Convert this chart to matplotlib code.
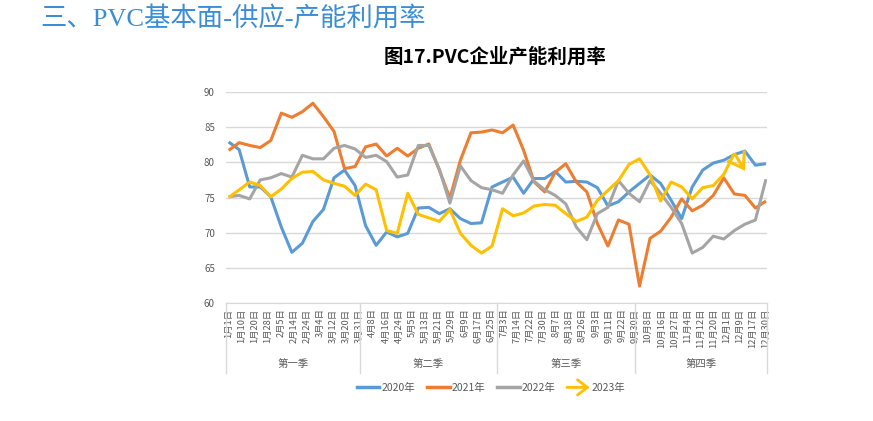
import numpy as np
import matplotlib
matplotlib.use("Agg")
import matplotlib.pyplot as plt
import matplotlib.transforms as mtransforms
from matplotlib.lines import Line2D
from matplotlib.patches import FancyArrowPatch
from matplotlib.legend_handler import HandlerBase

plt.rcParams['font.family'] = ['Noto Sans CJK SC', 'DejaVu Sans']

# category labels (date axis, shown every label) and quarter groups
date_labels = ["1月1日", "1月10日", "1月20日", "1月28日", "2月5日", "2月14日", "2月24日",
               "3月4日", "3月12日", "3月20日", "3月31日",
               "4月8日", "4月16日", "4月24日", "5月5日", "5月13日", "5月21日", "5月29日",
               "6月9日", "6月17日", "6月25日",
               "7月3日", "7月14日", "7月22日", "7月30日", "8月7日", "8月18日", "8月26日",
               "9月3日", "9月11日", "9月22日", "9月30日",
               "10月8日", "10月16日", "10月27日", "11月4日", "11月12日", "11月20日",
               "12月1日", "12月9日", "12月17日", "12月30日"]
quarters = ["第一季", "第二季", "第三季", "第四季"]
quarter_sizes = [11, 10, 11, 10]

# weekly capacity utilisation (%)
y2020 = [82.9, 81.8, 76.5, 76.5, 75.1, 70.8, 67.2, 68.5, 71.6, 73.3, 77.8, 78.9, 76.7,
         71.0, 68.2, 70.1, 69.4, 69.9, 73.5, 73.6, 72.7, 73.4, 72.0, 71.3, 71.4, 76.5,
         77.2, 77.9, 75.6, 77.7, 77.7, 78.7, 77.2, 77.3, 77.2, 76.4, 73.8, 74.4, 75.8,
         77.0, 78.2, 77.0, 74.6, 72.0, 76.5, 78.9, 79.9, 80.3, 81.1, 81.6, 79.6, 79.8]
y2021 = [81.7, 82.8, 82.4, 82.1, 83.1, 87.0, 86.4, 87.2, 88.4, 86.5, 84.4, 79.1, 79.4,
         82.2, 82.6, 80.9, 82.0, 80.9, 82.0, 82.6, 78.9, 74.9, 80.3, 84.2, 84.3, 84.6,
         84.2, 85.3, 81.7, 77.2, 75.8, 78.6, 79.8, 77.2, 75.8, 71.3, 68.1, 71.8, 71.2,
         62.4, 69.2, 70.2, 72.2, 74.8, 73.1, 73.9, 75.3, 77.8, 75.5, 75.3, 73.5, 74.5]
y2022 = [75.1, 75.3, 74.8, 77.5, 77.8, 78.4, 77.9, 81.0, 80.5, 80.5, 82.0, 82.4, 81.9,
         80.7, 81.0, 80.1, 77.9, 78.2, 82.4, 82.4, 79.0, 74.2, 79.5, 77.4, 76.4, 76.1,
         75.6, 78.2, 80.2, 77.3, 76.1, 75.3, 74.1, 70.8, 69.0, 72.7, 73.6, 77.4, 75.6,
         74.4, 77.4, 75.6, 73.6, 71.3, 67.1, 67.9, 69.5, 69.1, 70.3, 71.2, 71.8, 77.6]
y2023 = [75.0, 76.1, 77.2, 76.7, 75.1, 76.2, 77.7, 78.6, 78.7, 77.5, 77.0, 76.6, 75.3,
         76.9, 76.1, 70.3, 69.9, 75.6, 72.6, 72.1, 71.6, 73.3, 69.9, 68.2, 67.1, 68.1,
         73.4, 72.4, 72.8, 73.8, 74.0, 73.9, 72.7, 71.6, 72.2, 74.6, 76.0, 77.4, 79.7,
         80.5, 78.2, 74.5, 77.2, 76.5, 74.8, 76.4, 76.7, 78.3, 81.3, 78.8]

series = [("2020年", y2020, "#5B9BD5"),
          ("2021年", y2021, "#ED7D31"),
          ("2022年", y2022, "#A5A5A5"),
          ("2023年", y2023, "#FFC000")]

n_weeks = 52
label_pos = np.linspace(0, n_weeks - 1, len(date_labels))

fig = plt.figure(figsize=(8.73, 4.21), dpi=100)
ax = fig.add_axes([226 / 873, 1 - 303 / 421, (767 - 226) / 873, (303 - 92) / 421])

for name, vals, color in series:
    xs = np.arange(len(vals))
    if name == "2023年":
        # last segment is drawn as an arrow
        ax.plot(xs[:-1], vals[:-1], color=color, lw=2.2, solid_joinstyle="round",
                solid_capstyle="butt")
        ax.annotate("", xy=(xs[-1], vals[-1]), xytext=(xs[-2], vals[-2]),
                    arrowprops=dict(arrowstyle="->,head_length=0.6,head_width=0.4",
                                    color=color, lw=2.2, shrinkA=0, shrinkB=0,
                                    mutation_scale=18, capstyle="butt", joinstyle="miter"))
    else:
        ax.plot(xs, vals, color=color, lw=2.2, solid_joinstyle="round",
                solid_capstyle="butt")

ax.set_ylim(60, 90)
ax.set_yticks(np.arange(60, 91, 5))
ax.set_xlim(-0.25, n_weeks - 1 + 0.1)
ax.grid(axis="y", color="#D9D9D9", lw=1)
ax.set_axisbelow(True)
for s in ["top", "right", "left"]:
    ax.spines[s].set_visible(False)
ax.spines["bottom"].set_color("#D9D9D9")
ax.tick_params(axis="y", length=0, labelsize=7, labelcolor="#595959", pad=8)
ax.set_xticks(label_pos)
ax.set_xticklabels(date_labels, rotation=90, fontsize=6.7, color="#595959")
ax.tick_params(axis="x", length=0, pad=4)

# multi-level axis: quarter separators and labels
trans = mtransforms.blended_transform_factory(ax.transData, ax.transAxes)
step = label_pos[1] - label_pos[0]
edges = [ax.get_xlim()[0]]
idx = 0
for k, size in enumerate(quarter_sizes):
    idx += size
    if k < len(quarter_sizes) - 1:
        edges.append(label_pos[idx - 1] + (0.5 * step if k == 1 else 0.0))
edges.append(ax.get_xlim()[1])
for e in edges:
    ax.plot([e, e], [0, -0.33], color="#D9D9D9", lw=1, transform=trans, clip_on=False)
for q, a, b in zip(quarters, edges[:-1], edges[1:]):
    ax.text((a + b) / 2, -0.29, q, transform=trans, ha="center", va="center",
            fontsize=7.5, color="#595959")


class ArrowHandler(HandlerBase):
    def create_artists(self, legend, orig_handle, xdescent, ydescent, width, height,
                       fontsize, trans):
        y = height / 2 - ydescent
        p = FancyArrowPatch((-xdescent, y), (width - xdescent, y),
                            arrowstyle="->,head_length=0.6,head_width=0.45", mutation_scale=12,
                            lw=2, color="#FFC000", transform=trans, shrinkA=0, shrinkB=0)
        return [p]


handles = [Line2D([], [], color=c, lw=2.5) for _, _, c in series]
labels = [n for n, _, _ in series]
fig.legend(handles, labels, loc="center", bbox_to_anchor=(491 / 873, 1 - 388 / 421),
           ncol=4, frameon=False, fontsize=7.5, handlelength=2.2, columnspacing=1.1,
           handletextpad=0.2, labelcolor="#595959",
           handler_map={handles[3]: ArrowHandler()})

fig.text(495 / 873, 1 - 57 / 421, "图17.PVC企业产能利用率", ha="center", va="center",
         fontsize=14, fontweight="bold", color="black")
fig.text(40 / 873, 1 - 19 / 421, "三、PVC基本面-供应-产能利用率", ha="left", va="center",
         fontsize=19, color="#3A8DD6", fontweight="light",
         family=["Liberation Serif", "Noto Sans CJK SC"])

fig.savefig("out.png", dpi=100)
